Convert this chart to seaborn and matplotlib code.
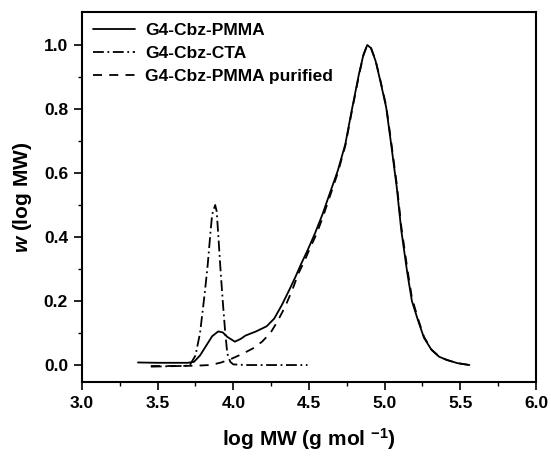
import numpy as np
import pandas as pd
import matplotlib
matplotlib.use("Agg")
import matplotlib.pyplot as plt
import seaborn as sns

# Data
pmma_x = [3.37, 3.50, 3.60, 3.70, 3.74, 3.78, 3.82, 3.86, 3.90, 3.93, 3.96, 4.01, 4.05, 4.08, 4.15,
          4.22, 4.27, 4.32, 4.37, 4.41, 4.45, 4.49, 4.54, 4.59, 4.64, 4.69, 4.74, 4.78, 4.83, 4.86,
          4.885, 4.91, 4.94, 4.97, 5.01, 5.04, 5.08, 5.11, 5.15, 5.18, 5.22, 5.26, 5.31, 5.36, 5.41, 5.48, 5.56]
pmma_y = [0.008, 0.007, 0.007, 0.007, 0.010, 0.030, 0.060, 0.090, 0.105, 0.102, 0.088, 0.073, 0.082, 0.092, 0.105,
          0.121, 0.145, 0.187, 0.235, 0.275, 0.318, 0.358, 0.412, 0.472, 0.540, 0.607, 0.690, 0.790, 0.909, 0.970,
          1.000, 0.990, 0.950, 0.890, 0.805, 0.700, 0.555, 0.420, 0.286, 0.200, 0.140, 0.085, 0.047, 0.026, 0.016, 0.006, 0.000]

cta_x = [3.455, 3.55, 3.65, 3.71, 3.75, 3.78, 3.81, 3.83, 3.85, 3.86, 3.88, 3.89, 3.90, 3.915, 3.93,
         3.945, 3.96, 3.98, 4.00, 4.08, 4.30, 4.49]
cta_y = [-0.005, -0.004, -0.003, -0.002, 0.030, 0.100, 0.220, 0.310, 0.420, 0.470, 0.500, 0.480, 0.410, 0.300, 0.200,
         0.110, 0.036, 0.010, 0.002, 0.000, 0.000, 0.000]

pur_x = [3.455, 3.55, 3.65, 3.75, 3.85, 3.92, 3.99, 4.06, 4.13, 4.19, 4.245, 4.29, 4.34, 4.39, 4.43,
         4.47, 4.50, 4.55, 4.59, 4.64, 4.69, 4.74, 4.78, 4.83, 4.86, 4.885, 4.91, 4.94, 4.97, 5.01,
         5.04, 5.08, 5.11, 5.15, 5.18, 5.22, 5.26, 5.31, 5.36, 5.41, 5.48, 5.56]
pur_y = [-0.003, -0.003, -0.003, -0.002, 0.000, 0.008, 0.020, 0.035, 0.052, 0.073, 0.100, 0.135, 0.180, 0.235, 0.286,
         0.325, 0.358, 0.410, 0.460, 0.530, 0.600, 0.685, 0.785, 0.905, 0.968, 1.000, 0.990, 0.952, 0.893, 0.810,
         0.708, 0.565, 0.432, 0.300, 0.210, 0.145, 0.088, 0.048, 0.027, 0.016, 0.006, 0.000]

labels = ["G4-Cbz-PMMA", "G4-Cbz-CTA", "G4-Cbz-PMMA purified"]

df = pd.concat([
    pd.DataFrame({"x": pmma_x, "y": pmma_y, "s": labels[0]}),
    pd.DataFrame({"x": cta_x, "y": cta_y, "s": labels[1]}),
    pd.DataFrame({"x": pur_x, "y": pur_y, "s": labels[2]}),
], ignore_index=True)

sns.set_style("ticks")
plt.rcParams["font.family"] = ["Liberation Sans", "DejaVu Sans"]
plt.rcParams["font.weight"] = "bold"
plt.rcParams["mathtext.fontset"] = "custom"
plt.rcParams["mathtext.it"] = "Liberation Sans:italic:bold"
plt.rcParams["mathtext.rm"] = "Liberation Sans:bold"
plt.rcParams["mathtext.bf"] = "Liberation Sans:bold"
for k in ["text.color", "axes.labelcolor", "xtick.color", "ytick.color", "axes.edgecolor"]:
    plt.rcParams[k] = "black"

fig = plt.figure(figsize=(5.51, 4.57), dpi=100)
ax = fig.add_axes([82 / 551, 1 - 382 / 457, 454 / 551, 370 / 457])

sns.lineplot(data=df, x="x", y="y", hue="s", style="s",
             palette=["black", "black", "black"],
             dashes={labels[0]: "", labels[1]: (6, 2, 1, 2), labels[2]: (5, 4)},
             sort=False, estimator=None, linewidth=1.3, ax=ax)

ax.set_xlim(3.0, 6.0)
ax.set_ylim(-0.053, 1.103)
ax.set_xticks(np.arange(3.0, 6.01, 0.5))
ax.set_xticks(np.arange(3.0, 6.01, 0.25), minor=True)
ax.set_yticks(np.arange(0.0, 1.01, 0.2))
ax.set_yticks(np.arange(0.0, 1.01, 0.1), minor=True)
ax.xaxis.set_major_formatter(matplotlib.ticker.FormatStrFormatter("%.1f"))
ax.yaxis.set_major_formatter(matplotlib.ticker.FormatStrFormatter("%.1f"))
ax.tick_params(which="major", direction="out", length=6, width=1.2, labelsize=12.5, pad=4)
ax.tick_params(which="minor", direction="out", length=3, width=1.0)
for t in ax.get_xticklabels() + ax.get_yticklabels():
    t.set_fontweight("bold")
for sp in ax.spines.values():
    sp.set_linewidth(1.5)

ax.set_xlabel("log MW (g mol $^{\\mathregular{-1}}$)", fontsize=15, fontweight="bold", labelpad=11)
ax.set_ylabel("$w$ (log MW)", fontsize=15, fontweight="bold", labelpad=7)

leg = ax.legend(loc="upper left", frameon=False, fontsize=12.5, handlelength=2.4,
                handletextpad=0.6, borderaxespad=0.25, labelspacing=0.45)
for t in leg.get_texts():
    t.set_fontweight("bold")

fig.savefig("out.png", dpi=100)
